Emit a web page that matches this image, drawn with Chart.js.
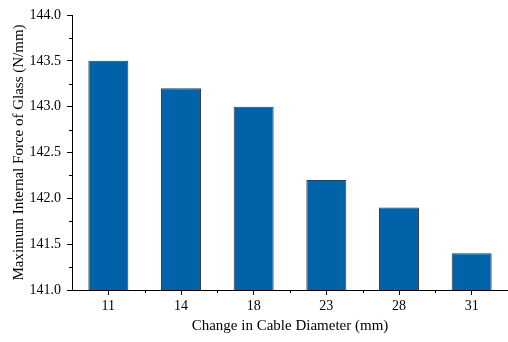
<!DOCTYPE html>
<html>
<head>
<meta charset="utf-8">
<script src="https://cdn.jsdelivr.net/npm/chart.js@4/dist/chart.umd.min.js"></script>
<style>
html,body{margin:0;padding:0;background:#fff;}
#wrap{width:508px;height:342px;}
</style>
</head>
<body>
<div id="wrap"><canvas id="c" width="508" height="342"></canvas></div>
<script>
const categories = ['11', '14', '18', '23', '28', '31'];
const forceValues = [143.5, 143.2, 143.0, 142.2, 141.9, 141.4];
const yTickValues = [141.0, 141.5, 142.0, 142.5, 143.0, 143.5, 144.0];
const yMinorValues = [141.25, 141.75, 142.25, 142.75, 143.25, 143.75];

const FONT = "'Liberation Serif', 'Times New Roman', serif";

const minorTicks = {
  id: 'minorTicks',
  afterDraw(chart) {
    const ctx = chart.ctx;
    const xs = chart.scales.x, ys = chart.scales.y;
    ctx.save();
    ctx.strokeStyle = '#000';
    ctx.lineWidth = 1;
    ctx.beginPath();
    yMinorValues.forEach(v => {
      const py = Math.round(ys.getPixelForValue(v)) + 0.5;
      ctx.moveTo(xs.left, py);
      ctx.lineTo(xs.left - 3, py);
    });
    for (let i = 0; i < categories.length - 1; i++) {
      const px = Math.round((xs.getPixelForValue(i) + xs.getPixelForValue(i + 1)) / 2) + 0.5;
      ctx.moveTo(px, ys.bottom);
      ctx.lineTo(px, ys.bottom + 3);
    }
    ctx.stroke();
    ctx.restore();
  }
};

new Chart(document.getElementById('c'), {
  type: 'bar',
  data: {
    labels: categories,
    datasets: [{
      data: forceValues,
      backgroundColor: '#0063a9',
      borderColor: '#3a3a3a',
      borderWidth: 1,
      barPercentage: 0.55,
      categoryPercentage: 1.0
    }]
  },
  options: {
    responsive: false,
    animation: false,
    devicePixelRatio: 1,
    layout: { padding: { top: 15, right: 0, left: 10, bottom: 0 } },
    plugins: { legend: { display: false }, tooltip: { enabled: false } },
    scales: {
      x: {
        offset: true,
        grid: { display: true, drawOnChartArea: false, drawTicks: true, offset: false, tickLength: 5, tickColor: '#000', lineWidth: 1 },
        border: { display: true, color: '#000', width: 1 },
        ticks: { color: '#000', font: { family: FONT, size: 14 }, padding: 3 },
        title: { display: true, text: 'Change in Cable Diameter (mm)', color: '#000', font: { family: FONT, size: 15 }, padding: { top: 2, bottom: 7 } },
        afterFit(s) { s.height = 52; }
      },
      y: {
        min: 141, max: 144,
        afterBuildTicks(s) { s.ticks = yTickValues.map(v => ({ value: v })); },
        grid: { display: true, drawOnChartArea: false, drawTicks: true, tickLength: 5, tickColor: '#000', lineWidth: 1 },
        border: { display: true, color: '#000', width: 1 },
        ticks: { color: '#000', font: { family: FONT, size: 14 }, padding: 6, callback: v => Number(v).toFixed(1) },
        title: { display: true, text: 'Maximum Internal Force of Glass (N/mm)', color: '#000', font: { family: FONT, size: 15 }, padding: { top: 0, bottom: 2 } },
        afterFit(s) { s.width = 62; }
      }
    }
  },
  plugins: [minorTicks]
});
</script>
</body>
</html>
